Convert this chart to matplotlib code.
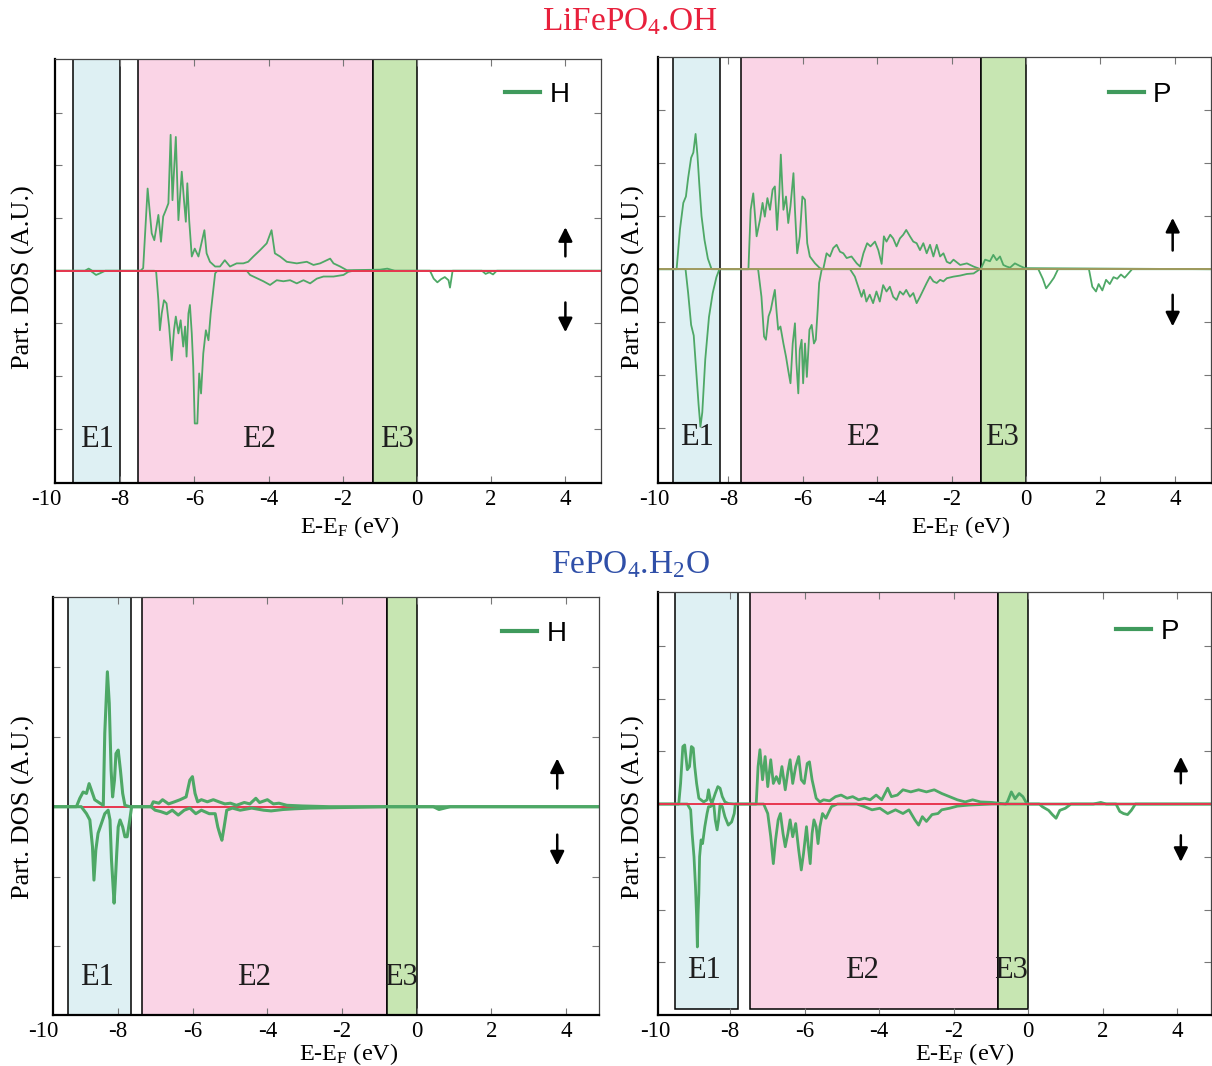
import matplotlib
matplotlib.use('Agg')
import matplotlib.pyplot as plt
from matplotlib.patches import Rectangle

plt.rcParams['font.family'] = ['Liberation Serif', 'DejaVu Serif']
plt.rcParams['mathtext.fontset'] = 'custom'
plt.rcParams['mathtext.rm'] = 'Liberation Serif'
plt.rcParams['mathtext.it'] = 'Liberation Serif:italic'

# ---- data (energy in eV, DOS in tick units) ----
xticks = [-10, -8, -6, -4, -2, 0, 2, 4]

# LiFePO4.OH, H
oh_h_up_e = [-10.0, -8.95, -8.85, -8.75, -7.45, -7.38, -7.26, -7.15, -7.08, -6.97, -6.90, -6.84, -6.77, -6.70,
             -6.64, -6.59, -6.50, -6.43, -6.34, -6.28, -6.23, -6.19, -6.14, -6.07, -5.99, -5.89, -5.73, -5.67,
             -5.58, -5.44, -5.31, -5.18, -5.04, -4.86, -4.68, -4.55, -4.41, -4.23, -4.05, -3.92, -3.83, -3.69,
             -3.51, -3.24, -2.97, -2.79, -2.61, -2.34, -2.25, -2.07, -1.89, -1.0, -0.8, -0.6, 5.0]
oh_h_up = [0, 0, 0.04, 0, 0, 0.05, 1.56, 0.71, 0.58, 1.06, 0.55, 1.03, 1.15, 1.28, 2.58, 1.34, 2.54, 0.96,
           1.88, 1.34, 0.93, 1.66, 0.96, 0.27, 0.42, 0.27, 0.77, 0.33, 0.17, 0.08, 0.08, 0.20, 0.08, 0.14, 0.14,
           0.17, 0.27, 0.39, 0.52, 0.77, 0.33, 0.27, 0.17, 0.14, 0.17, 0.11, 0.14, 0.23, 0.14, 0.08, 0.01, 0.02,
           0.04, 0, 0]
oh_h_dn_e = [-10.0, -8.8, -8.65, -8.55, -8.4, -7.08, -7.03, -6.97, -6.93, -6.88, -6.82, -6.75, -6.68, -6.61,
             -6.55, -6.50, -6.43, -6.37, -6.30, -6.25, -6.21, -6.16, -6.12, -6.07, -6.03, -5.99, -5.92, -5.87,
             -5.82, -5.76, -5.69, -5.62, -5.56, -5.51, -5.44, -5.38, -4.59, -4.50, -4.32, -4.14, -3.96, -3.78,
             -3.60, -3.42, -3.24, -3.06, -2.88, -2.70, -2.52, -2.25, -1.98, -1.85, -1.71, 0.35, 0.45, 0.55, 0.65,
             0.75, 0.85, 0.89, 0.96, 1.75, 1.85, 1.95, 2.05, 2.15, 5.0]
oh_h_dn = [0, 0, -0.08, -0.05, 0, 0, -0.02, -0.56, -1.13, -0.81, -0.56, -0.62, -1.06, -1.70, -1.13, -0.87,
           -1.19, -0.94, -1.44, -1.06, -1.63, -0.81, -0.65, -1.19, -1.82, -2.90, -2.90, -1.95, -2.33, -1.57,
           -1.13, -1.32, -0.81, -0.49, -0.05, 0, 0, -0.08, -0.14, -0.20, -0.27, -0.18, -0.20, -0.18, -0.24,
           -0.18, -0.24, -0.15, -0.11, -0.11, -0.08, -0.02, 0, 0, -0.15, -0.22, -0.16, -0.12, -0.18, -0.32, 0,
           0, -0.06, -0.03, -0.07, 0, 0]

# LiFePO4.OH, P
oh_p_up_e = [-10.0, -9.39, -9.30, -9.21, -9.14, -9.08, -9.00, -8.94, -8.88, -8.83, -8.78, -8.72, -8.64, -8.55,
             -8.45, -7.46, -7.40, -7.33, -7.24, -7.15, -7.08, -7.02, -6.95, -6.88, -6.81, -6.75, -6.69, -6.63,
             -6.59, -6.52, -6.45, -6.39, -6.33, -6.25, -6.21, -6.15, -6.08, -6.01, -5.94, -5.88, -5.81, -5.67,
             -5.54, -5.45, -5.36, -5.27, -5.18, -5.09, -5.00, -4.91, -4.82, -4.69, -4.55, -4.46, -4.37, -4.27,
             -4.18, -4.06, -3.97, -3.88, -3.82, -3.75, -3.65, -3.57, -3.48, -3.39, -3.30, -3.22, -3.12, -3.03,
             -2.94, -2.85, -2.76, -2.67, -2.58, -2.49, -2.40, -2.31, -2.22, -2.13, -2.04, -1.95, -1.77, -1.59,
             -1.41, -1.22, -1.10, -0.97, -0.88, -0.79, -0.70, -0.61, -0.52, -0.43, -0.30, -0.16, -0.03, 5.0]
oh_p_up = [0, 0, 0.75, 1.25, 1.37, 1.72, 2.10, 2.20, 2.55, 2.15, 1.60, 1.00, 0.55, 0.20, 0, 0, 1.12, 1.43,
           0.62, 0.93, 1.25, 0.99, 1.34, 1.12, 1.50, 1.56, 0.74, 1.43, 2.16, 1.12, 1.37, 0.87, 1.19, 1.81, 1.12,
           0.30, 0.62, 1.37, 1.31, 0.49, 0.24, 0.11, 0.02, 0, 0.30, 0.24, 0.40, 0.46, 0.33, 0.30, 0.21, 0.24,
           0.11, 0.05, 0.30, 0.49, 0.43, 0.52, 0.36, 0.10, 0.62, 0.52, 0.65, 0.58, 0.43, 0.58, 0.65, 0.74, 0.62,
           0.52, 0.49, 0.36, 0.49, 0.30, 0.46, 0.24, 0.46, 0.24, 0.30, 0.14, 0.11, 0.18, 0.08, 0.11, 0.05, 0,
           0.18, 0.15, 0.27, 0.17, 0.24, 0.08, 0.05, 0.03, 0.11, 0.06, 0.02, 0]
oh_p_dn_e = [-10.0, -9.15, -9.08, -9.00, -8.93, -8.86, -8.80, -8.75, -8.70, -8.62, -8.52, -8.42, -8.32, -8.24,
             -7.20, -7.11, -7.04, -6.99, -6.92, -6.86, -6.79, -6.75, -6.70, -6.66, -6.60, -6.52, -6.45, -6.39,
             -6.33, -6.27, -6.21, -6.17, -6.12, -6.08, -6.03, -5.99, -5.94, -5.89, -5.82, -5.76, -5.70, -5.65,
             -5.60, -5.56, -5.49, -4.73, -4.60, -4.51, -4.42, -4.36, -4.29, -4.20, -4.11, -4.02, -3.93, -3.84,
             -3.75, -3.66, -3.57, -3.48, -3.39, -3.30, -3.22, -3.12, -3.03, -2.94, -2.85, -2.76, -2.67, -2.58,
             -2.49, -2.40, -2.31, -2.22, -2.13, -1.95, -1.77, -1.59, -1.41, -1.24, 0.33, 0.45, 0.54, 0.65, 0.75,
             0.86, 1.69, 1.78, 1.88, 1.95, 2.05, 2.15, 2.25, 2.35, 2.45, 2.55, 2.65, 2.85, 5.0]
oh_p_dn = [0, 0, -0.45, -1.05, -1.25, -1.95, -2.55, -2.97, -2.70, -1.70, -0.90, -0.45, -0.15, 0, 0, -0.52,
           -1.27, -1.33, -0.89, -0.77, -0.52, -0.39, -0.83, -1.14, -1.08, -1.40, -1.65, -1.91, -2.15, -1.40,
           -1.02, -1.77, -2.34, -1.52, -1.33, -2.15, -1.40, -2.03, -1.14, -1.05, -1.40, -1.33, -0.77, -0.26, 0,
           0, -0.14, -0.33, -0.52, -0.39, -0.61, -0.48, -0.64, -0.42, -0.61, -0.30, -0.42, -0.33, -0.52, -0.58,
           -0.42, -0.48, -0.39, -0.52, -0.45, -0.64, -0.52, -0.39, -0.26, -0.14, -0.23, -0.26, -0.20, -0.23,
           -0.17, -0.14, -0.12, -0.09, -0.08, 0, 0, -0.18, -0.36, -0.26, -0.16, 0, 0, -0.33, -0.42, -0.28,
           -0.40, -0.20, -0.28, -0.15, -0.18, -0.10, -0.16, 0, 0]

# FePO4.H2O, H
h2o_h_up_e = [-10.0, -9.12, -9.03, -8.94, -8.85, -8.78, -8.72, -8.63, -8.49, -8.40, -8.36, -8.29, -8.24, -8.19,
              -8.15, -8.10, -8.06, -8.00, -7.94, -7.88, -7.82, -7.69, -7.12, -7.06, -6.91, -6.81, -6.65, -6.49,
              -6.34, -6.18, -6.08, -6.01, -5.94, -5.87, -5.77, -5.61, -5.45, -5.30, -5.14, -4.99, -4.83, -4.62,
              -4.47, -4.31, -4.21, -4.00, -3.84, -3.69, -3.48, -3.06, -2.34, 5.0]
h2o_h_up = [0, 0, 0.12, 0.21, 0.19, 0.33, 0.24, 0.10, 0.05, 0.02, 1.05, 1.93, 1.48, 0.52, 0.14, 0.38, 0.76,
            0.81, 0.52, 0.19, 0.02, 0, 0, 0.07, 0.05, 0.10, 0.04, 0.07, 0.10, 0.14, 0.38, 0.43, 0.19, 0.07,
            0.10, 0.07, 0.10, 0.07, 0.04, 0.05, 0.02, 0.06, 0.04, 0.12, 0.06, 0.10, 0.04, 0.05, 0.02, 0.01, 0, 0]
h2o_h_dn_e = [-10.0, -8.99, -8.85, -8.76, -8.69, -8.65, -8.60, -8.54, -8.45, -8.36, -8.27, -8.22, -8.18, -8.11,
              -8.08, -8.04, -8.00, -7.95, -7.88, -7.82, -7.76, -7.69, -7.64, -7.12, -7.01, -6.86, -6.70, -6.55,
              -6.39, -6.23, -6.08, -5.92, -5.77, -5.56, -5.40, -5.33, -5.27, -5.22, -5.16, -5.09, -4.94, -4.73,
              -4.42, -4.10, -3.90, -3.58, -3.27, -2.86, -1.82, -0.88, 0.45, 0.6, 0.75, 0.9, 5.0]
h2o_h_dn = [0, 0, -0.10, -0.19, -0.57, -1.05, -0.62, -0.38, -0.24, -0.10, -0.05, -0.19, -0.76, -1.38, -1.10,
            -0.67, -0.29, -0.19, -0.29, -0.43, -0.43, -0.19, 0, 0, -0.05, -0.07, -0.10, -0.05, -0.12, -0.05,
            -0.02, -0.10, -0.05, -0.10, -0.10, -0.29, -0.40, -0.48, -0.29, -0.05, -0.02, -0.05, -0.02, -0.05,
            -0.06, -0.04, -0.03, -0.02, -0.01, 0, 0, -0.04, -0.02, 0, 0]

# FePO4.H2O, P
h2o_p_up_e = [-10.0, -9.38, -9.33, -9.27, -9.22, -9.15, -9.09, -9.04, -8.99, -8.95, -8.90, -8.84, -8.71, -8.62,
              -8.58, -8.53, -8.49, -8.40, -8.33, -8.27, -8.21, -8.14, -8.05, -7.87, -7.30, -7.25, -7.20, -7.13,
              -7.06, -6.99, -6.91, -6.84, -6.76, -6.68, -6.61, -6.52, -6.45, -6.39, -6.32, -6.24, -6.16, -6.09,
              -6.01, -5.93, -5.87, -5.80, -5.69, -5.59, -5.49, -5.33, -5.17, -5.02, -4.86, -4.71, -4.55, -4.39,
              -4.24, -4.08, -3.93, -3.77, -3.67, -3.51, -3.36, -3.15, -2.94, -2.73, -2.52, -2.32, -2.11, -1.90,
              -1.69, -1.49, -1.28, -0.97, -0.60, -0.55, -0.45, -0.35, -0.24, -0.14, -0.03, 1.75, 1.95, 2.1, 5.0]
h2o_p_up = [0, 0, 0.39, 1.09, 1.12, 0.65, 0.71, 1.09, 1.06, 0.71, 0.39, 0.11, 0.04, 0.08, 0.27, 0.08, 0.01,
            0.20, 0.33, 0.30, 0.14, 0.04, 0.01, 0, 0, 0.71, 1.03, 0.46, 0.90, 0.33, 0.84, 0.39, 0.52, 0.39, 0.71,
            0.27, 0.61, 0.84, 0.39, 0.71, 0.90, 0.46, 0.39, 0.77, 0.80, 0.46, 0.11, 0.04, 0.08, 0.06, 0.14, 0.17,
            0.11, 0.14, 0.08, 0.11, 0.08, 0.17, 0.08, 0.30, 0.14, 0.17, 0.27, 0.23, 0.27, 0.23, 0.27, 0.20, 0.14,
            0.08, 0.04, 0.08, 0.04, 0.03, 0, 0.05, 0.23, 0.10, 0.20, 0.14, 0, 0, 0.03, 0, 0]
h2o_p_dn_e = [-10.0, -9.15, -9.06, -9.02, -8.97, -8.93, -8.90, -8.88, -8.86, -8.84, -8.82, -8.78, -8.74, -8.68,
              -8.62, -8.58, -8.53, -8.44, -8.40, -8.35, -8.31, -8.27, -8.21, -8.14, -8.05, -7.96, -7.89, -7.86,
              -7.10, -6.99, -6.91, -6.84, -6.78, -6.71, -6.65, -6.58, -6.52, -6.45, -6.39, -6.32, -6.24, -6.16,
              -6.09, -6.03, -5.95, -5.90, -5.85, -5.80, -5.75, -5.69, -5.64, -5.59, -5.52, -5.43, -5.35, -5.28,
              -5.12, -4.60, -4.39, -4.19, -3.98, -3.77, -3.56, -3.36, -3.20, -3.04, -2.94, -2.84, -2.73, -2.58,
              -2.42, -2.32, -2.11, -1.90, -1.59, -0.97, 0.30, 0.38, 0.55, 0.65, 0.75, 0.85, 1.0, 1.15, 2.36, 2.46,
              2.56, 2.67, 2.77, 2.88, 5.0]
h2o_p_dn = [0, 0, -0.11, -0.56, -1.00, -1.57, -2.14, -2.71, -2.08, -1.70, -1.00, -0.68, -0.75, -0.43, -0.18,
            -0.05, -0.05, 0.0, -0.30, -0.49, -0.30, 0.0, -0.05, -0.24, -0.40, -0.34, -0.18, 0, 0, -0.18, -0.62,
            -1.13, -0.68, -0.30, -0.18, -0.56, -0.81, -0.56, -0.30, -0.62, -0.37, -0.87, -1.25, -0.94, -0.43,
            -0.81, -1.13, -0.56, -0.30, -0.43, -0.75, -0.43, -0.18, -0.27, -0.15, -0.05, 0, 0, -0.05, -0.11,
            -0.08, -0.18, -0.11, -0.18, -0.11, -0.30, -0.40, -0.24, -0.33, -0.20, -0.18, -0.11, -0.08, -0.04,
            -0.02, 0, 0, -0.05, -0.12, -0.20, -0.27, -0.12, -0.08, 0, 0, -0.14, -0.18, -0.20, -0.12, 0, 0]

# energy windows E1, E2, E3 per panel
oh_h_windows = [(-9.28, -8.01), (-7.52, -1.19), (-1.19, 0.0)]
oh_p_windows = [(-9.48, -8.23), (-7.66, -1.22), (-1.22, 0.0)]
h2o_h_windows = [(-9.35, -7.67), (-7.35, -0.80), (-0.80, 0.0)]
h2o_p_windows = [(-9.49, -7.80), (-7.48, -0.81), (-0.81, 0.0)]
window_names = ['E1', 'E2', 'E3']
window_colors = ['#def0f3', '#fad4e6', '#c7e6b2']

# ---- figure ----
W, H = 1212, 1066
fig = plt.figure(figsize=(W / 100, H / 100), dpi=100)
green = '#4ea866'
tick_fs = 16.5

panels = [
    dict(box=(54.5, 59, 601, 483), xlim=(-9.77, 4.96), ylim=(-4.03, 4.02), yt=[-3, -2, -1, 1, 2, 3],
         up=(oh_h_up_e, oh_h_up), dn=(oh_h_dn_e, oh_h_dn), win=oh_h_windows, rect_y=None,
         elem='H', zero='#e8364f', zero_top=True, lw=1.3, ey=-3.21,
         ex=[-8.62, -4.27, -0.55], arr=(4.0, 0.22, 0.88, -0.55, -1.22), leg=(0.943, 0.946),
         ylab=(23, 277), xlab=(350, 527)),
    dict(box=(658, 57, 1211, 483), xlim=(-9.89, 4.97), ylim=(-4.03, 4.0), yt=[-3, -2, -1, 1, 2, 3],
         up=(oh_p_up_e, oh_p_up), dn=(oh_p_dn_e, oh_p_dn), win=oh_p_windows, rect_y=None,
         elem='P', zero='#a09a5e', zero_top=True, lw=1.3, ey=-3.18,
         ex=[-8.85, -4.37, -0.64], arr=(3.94, 0.30, 1.02, -0.43, -1.13), leg=(0.929, 0.941),
         ylab=(633, 277), xlab=(961, 527)),
    dict(box=(53.3, 597, 599, 1015), xlim=(-9.74, 4.89), ylim=(-2.98, 3.0), yt=[-2, -1, 1, 2],
         up=(h2o_h_up_e, h2o_h_up), dn=(h2o_h_dn_e, h2o_h_dn), win=h2o_h_windows, rect_y=None,
         elem='H', zero='#e8364f', zero_top=False, lw=2.2, ey=-2.45,
         ex=[-8.57, -4.36, -0.42], arr=(3.77, 0.22, 0.73, -0.36, -0.88), leg=(0.94, 0.943),
         ylab=(23, 807), xlab=(349, 1054)),
    dict(box=(657.5, 592, 1211, 1015), xlim=(-9.95, 4.91), ylim=(-4.0, 4.02), yt=[-3, -2, -1, 1, 2, 3],
         up=(h2o_p_up_e, h2o_p_up), dn=(h2o_p_dn_e, h2o_p_dn), win=h2o_p_windows, rect_y=(-3.88, 4.02),
         elem='P', zero='#e8364f', zero_top=True, lw=2.0, ey=-3.15,
         ex=[-8.71, -4.45, -0.45], arr=(4.1, 0.34, 0.95, -0.54, -1.15), leg=(0.942, 0.936),
         ylab=(633, 807), xlab=(965, 1054)),
]

for p in panels:
    l, t, r, b = p['box']
    ax = fig.add_axes([l / W, 1 - b / H, (r - l) / W, (b - t) / H])
    y0, y1 = p['rect_y'] if p['rect_y'] else p['ylim']
    for (a, c), col, name, xe in zip(p['win'], window_colors, window_names, p['ex']):
        ax.add_patch(Rectangle((a, y0), c - a, y1 - y0, facecolor=col, edgecolor='black',
                               lw=1.1, zorder=1))
        ax.text(xe, p['ey'], name, ha='center', va='center', fontsize=22, color='#1e1e1e', zorder=6)

    zl = 4 if p['zero_top'] else 2
    ax.axhline(0, color=p['zero'], lw=1.4, zorder=zl)
    ax.plot(*p['up'], color=green, lw=p['lw'], zorder=3, label=p['elem'])
    ax.plot(*p['dn'], color=green, lw=p['lw'], zorder=3)

    xa, u0, u1, d0, d1 = p['arr']
    for s, e in [(u0, u1), (d0, d1)]:
        ax.annotate('', xy=(xa, e), xytext=(xa, s),
                    arrowprops=dict(arrowstyle='-|>', color='black', lw=1.8, mutation_scale=21))

    leg = ax.legend(loc='upper right', bbox_to_anchor=p['leg'], frameon=False, borderpad=0,
                    borderaxespad=0, handlelength=1.25, handletextpad=0.35,
                    prop=dict(family='Liberation Sans', size=20))
    leg.get_lines()[0].set_linewidth(3)
    leg.get_lines()[0].set_color('#3f9a5c')

    # ticks first, then limits (set_xticks would otherwise widen the view)
    ax.set_xticks(xticks)
    ax.set_xticklabels([str(v) for v in xticks], fontsize=tick_fs)
    ax.set_yticks(p['yt'])
    ax.set_yticklabels([])
    ax.set_xlim(*p['xlim'])
    ax.set_ylim(*p['ylim'])
    # tick labels that sit just left of the axis start
    for v in xticks:
        if v < p['xlim'][0]:
            ax.annotate(str(v), xy=(v, 0), xycoords=('data', 'axes fraction'), xytext=(0, -4),
                        textcoords='offset points', ha='center', va='top', fontsize=tick_fs,
                        annotation_clip=False)
    ax.tick_params(direction='in', length=5, width=0.8, color='#777777', top=True, right=True, pad=4)
    for side in ['left', 'bottom']:
        ax.spines[side].set_linewidth(1.6)
        ax.spines[side].set_color('black')
    for side in ['top', 'right']:
        ax.spines[side].set_linewidth(0.9)
        ax.spines[side].set_color('#444444')
    for s in ax.spines.values():
        s.set_zorder(7)

    fig.text(p['ylab'][0] / W, 1 - p['ylab'][1] / H, 'Part. DOS (A.U.)', rotation=90,
             ha='center', va='center', fontsize=19)
    fig.text(p['xlab'][0] / W, 1 - p['xlab'][1] / H, r'E-E$_\mathrm{F}$ (eV)',
             ha='center', va='center', fontsize=17.5)

fig.text(630 / W, 1 - 22 / H, r'LiFePO$_4$.OH', color='#e8203c', fontsize=24, ha='center', va='center')
fig.text(630 / W, 1 - 565 / H, r'FePO$_4$.H$_2$O', color='#2f4fa8', fontsize=24, ha='center', va='center')

fig.savefig('out.png', dpi=100)
